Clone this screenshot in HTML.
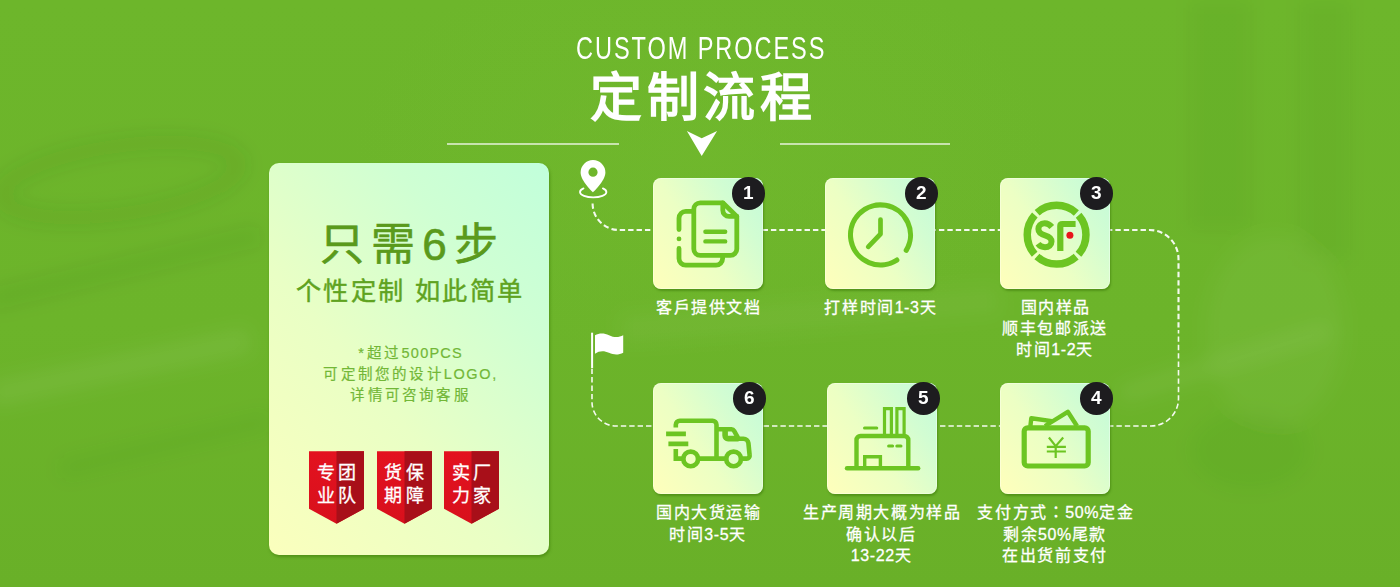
<!DOCTYPE html>
<html lang="zh-CN">
<head>
<meta charset="utf-8">
<title>定制流程</title>
<style>
*{margin:0;padding:0;box-sizing:border-box}
html,body{width:1400px;height:587px;overflow:hidden}
body{font-family:"Liberation Sans",sans-serif;background:#6cb42a;position:relative;color:#fff}
.bg{position:absolute;left:0;top:0;width:1400px;height:587px;
 background:
  radial-gradient(ellipse 500px 300px at 700px 150px, rgba(120,190,50,.25), rgba(120,190,50,0) 70%),
  linear-gradient(180deg,#6db62b 0%,#6cb42a 55%,#69b028 100%);}
.abs{position:absolute}
.en{position:absolute;left:0;width:1400px;text-align:center;top:28.5px;font-size:30.5px;line-height:38px;letter-spacing:2.5px;text-indent:2.5px;font-weight:400;color:#fff;white-space:nowrap;transform:scaleX(.772);transform-origin:701px 50%}
.h1{position:absolute;left:0;width:1400px;text-align:center;top:64px;font-size:52px;line-height:68px;font-weight:700;letter-spacing:4.5px;text-indent:6px;color:#fff;white-space:nowrap}
.hl{position:absolute;height:1.5px;background:rgba(255,255,255,.62);top:143px}
.panel{position:absolute;left:269px;top:163px;width:280px;height:392px;border-radius:10px;
 background:linear-gradient(50deg,#fbffbd 0%,#e9ffc5 40%,#cfffd3 74%,#c1ffdb 100%);
 box-shadow:1px 2px 3px rgba(60,120,10,.55)}
.p1{position:absolute;width:280px;text-align:center;white-space:nowrap;color:#5a9a1c}
.tile{position:absolute;width:110px;height:110.5px;border-radius:8px;
 background:linear-gradient(56deg,#ffffbb 0%,#ecffc4 42%,#d2fdd2 74%,#c2fadb 100%);
 box-shadow:1px 2px 2px rgba(60,120,10,.5), inset 0 0 0 1px rgba(255,255,255,.35)}
.badge{position:absolute;width:32.5px;height:32.5px;border-radius:50%;background:#1d1c1f;color:#fff;
 font-size:19px;font-weight:700;text-align:center;line-height:32.5px;will-change:transform}
.lab{position:absolute;width:240px;text-align:center;font-size:16px;line-height:21.4px;letter-spacing:1.55px;text-indent:1.55px;font-weight:400;color:#fff;white-space:nowrap;-webkit-text-stroke:.28px #fff}
.lab i{font-style:normal;letter-spacing:.6px}
.sm{font-size:14.5px;line-height:21.5px;letter-spacing:3.2px;text-indent:3.2px;color:#72b737;font-weight:400;-webkit-text-stroke:.2px #72b737}
.sm i{font-style:normal;letter-spacing:1.2px}
.rib{position:absolute;top:451px;width:54.5px;height:72px}
.rib svg{position:absolute;left:0;top:0}
.rib div{position:absolute;left:0;top:10.5px;width:54.5px;text-align:center;font-size:18px;line-height:23px;letter-spacing:3.5px;padding-left:3.5px;color:#fff;font-weight:400;white-space:nowrap;-webkit-text-stroke:.3px #fff}
</style>
</head>
<body>
<div class="bg"></div>
<svg class="abs" style="left:0;top:0" width="1400" height="587" viewBox="0 0 1400 587">
  <defs><filter id="bl" x="-20%" y="-20%" width="140%" height="140%"><feGaussianBlur stdDeviation="9"/></filter></defs>
  <g filter="url(#bl)" fill="none">
    <ellipse cx="120" cy="180" rx="120" ry="34" stroke="rgba(40,90,0,.09)" stroke-width="16" transform="rotate(-8 120 180)"/>
    <path d="M-10 395L250 340" stroke="rgba(255,255,255,.06)" stroke-width="26"/>
    <path d="M-10 300L260 235" stroke="rgba(40,90,0,.06)" stroke-width="22"/>
    <path d="M60 470L270 420" stroke="rgba(40,90,0,.05)" stroke-width="20"/>
    <path d="M1120 395L1330 330" stroke="rgba(255,255,255,.06)" stroke-width="18"/>
    <ellipse cx="1275" cy="330" rx="70" ry="95" fill="rgba(255,255,255,.035)"/>
    <rect x="1190" y="0" width="60" height="230" fill="rgba(40,90,0,.045)"/>
    <rect x="1300" y="0" width="50" height="260" fill="rgba(40,90,0,.04)"/>
    <ellipse cx="1250" cy="450" rx="60" ry="40" fill="rgba(40,90,0,.05)"/>
    <path d="M620 330L1000 300" stroke="rgba(255,255,255,.035)" stroke-width="30"/>
  </g>
</svg>
<div class="en">CUSTOM PROCESS</div>
<div class="h1">定制流程</div>
<div class="hl" style="left:447px;width:172px"></div>
<div class="hl" style="left:780px;width:170px"></div>
<svg class="abs" style="left:680px;top:125px" width="44" height="36" viewBox="680 125 44 36"><path d="M686.9 131.1 L701.7 138.2 L717.1 131.1 L701.7 155.9 Z" fill="#fff"/></svg>

<div class="panel"></div>
<div class="p1" id="t6" style="left:269px;top:216.5px;font-size:44px;line-height:56px;font-weight:400;letter-spacing:7px;text-indent:7px;-webkit-text-stroke:.65px #5a9a1c">只需6步</div>
<div class="p1" id="t7" style="left:269px;top:273.5px;font-size:25.2px;line-height:34px;font-weight:400;letter-spacing:2.35px;text-indent:2.35px;color:#5fa320;-webkit-text-stroke:.45px #5fa320">个性定制 如此简单</div>
<div class="p1 sm" id="s1" style="left:269px;top:343px">*超过<i>500PCS</i></div>
<div class="p1 sm" id="s2" style="left:269px;top:363.8px">可定制您的设计<i style="letter-spacing:1.6px">LOGO,</i></div>
<div class="p1 sm" id="s3" style="left:269px;top:385.3px">详情可咨询客服</div>

<div class="rib" style="left:309px"><svg width="55" height="73" viewBox="0 0 54.5 72"><path d="M0 0H54.5V57L27.25 72L0 57Z" fill="url(#rg)"/><path d="M27.25 0H54.5V57L27.25 72Z" fill="#a80f19"/></svg><div>专团<br>业队</div></div>
<div class="rib" style="left:376.5px"><svg width="55" height="73" viewBox="0 0 54.5 72"><path d="M0 0H54.5V57L27.25 72L0 57Z" fill="url(#rg)"/><path d="M27.25 0H54.5V57L27.25 72Z" fill="#a80f19"/></svg><div>货保<br>期障</div></div>
<div class="rib" style="left:444px"><svg width="55" height="73" viewBox="0 0 54.5 72"><path d="M0 0H54.5V57L27.25 72L0 57Z" fill="url(#rg)"/><path d="M27.25 0H54.5V57L27.25 72Z" fill="#a80f19"/></svg><div>实厂<br>力家</div></div>
<svg width="0" height="0" style="position:absolute"><defs><linearGradient id="rg" x1="0" y1="0" x2="0" y2="1"><stop offset="0" stop-color="#e3121f"/><stop offset="1" stop-color="#d8101c"/></linearGradient></defs></svg>

<!-- dashed route -->
<svg class="abs" style="left:0;top:0" width="1400" height="587" viewBox="0 0 1400 587" fill="none" stroke="#fff" stroke-dasharray="5.4 3" opacity=".93">
  <path d="M592.6 203.5A26.5 26.5 0 0 0 619.1 230H1149.5A29 29 0 0 1 1178.5 259V330" stroke-width="2.1"/>
  <path d="M1178.5 330V398.5A27.5 27.5 0 0 1 1151 426H616A24 24 0 0 1 592 402V368" stroke-width="1.6" stroke-dashoffset="2"/>
</svg>

<div class="tile" style="left:652.5px;top:178px"></div>
<div class="tile" style="left:825px;top:178px"></div>
<div class="tile" style="left:1000px;top:178px"></div>
<div class="tile" style="left:653px;top:383px"></div>
<div class="tile" style="left:826.5px;top:383px"></div>
<div class="tile" style="left:1000px;top:383px"></div>


<!-- icons overlay (page coordinates) -->
<svg class="abs" style="left:0;top:0" width="1400" height="587" viewBox="0 0 1400 587" fill="none" stroke="#6cc522" stroke-linecap="round" stroke-linejoin="round">
  <!-- pin -->
  <g stroke="none" fill="#fff">
    <path fill-rule="evenodd" d="M593 192.3C593 192.3 580.6 181 580.6 172.5A12.4 12.4 0 0 1 605.4 172.5C605.4 181 593 192.3 593 192.3ZM593 167.6a4.6 4.6 0 1 0 0 9.2a4.6 4.6 0 1 0 0-9.2Z"/>
    <rect x="591.1" y="332.7" width="2" height="35.4"/>
    <path d="M595 335.3C599 333 604 332.8 609 335.2C614 337.8 619 337.6 623.2 335.3V352.7C619 355 614 355.2 609 352.8C604 350.4 599 350.8 595 353.7Z"/>
  </g>
  <path d="M583.5 188.4A13.2 5.4 0 1 0 602.9 188.4" stroke="#fff" stroke-width="1.8"/>

  <!-- 1 documents -->
  <g stroke-width="4.8">
    <path d="M700.3 202.8H722.8L736.8 216.4V248.9a6.5 6.5 0 0 1-6.5 6.5H700.3a6.5 6.5 0 0 1-6.5-6.5V209.3a6.5 6.5 0 0 1 6.5-6.5Z"/>
    <path d="M722.8 202.8V210.2a6.2 6.2 0 0 0 6.2 6.2H736.8"/>
    <path d="M705.4 231.8H725.2M705.4 241.4H725.2" stroke-width="4.4"/>
    <path d="M692 211.4H685.8a6.8 6.8 0 0 0-6.8 6.8V229.6M679 238.9v.01M679 248.4V258.4a6.8 6.8 0 0 0 6.8 6.8H716a6.6 6.6 0 0 0 6.6-6.6V257.5"/>
  </g>

  <!-- 2 clock -->
  <path d="M896.84 260.06A30 30 0 1 1 906.22 250.35" stroke-width="5.1"/>
  <path d="M880.5 219.6V234L868.2 246.8" stroke-width="4.7"/>

  <!-- 3 SF -->
  <circle cx="1056.6" cy="234.7" r="29.35" stroke-width="7.5" stroke-linecap="butt" stroke-dasharray="42.9 3.2" stroke-dashoffset="21.45"/>
  <path d="M1051.8 227C1049.5 224.2 1046.6 223.3 1044.6 223.3C1040.4 223.3 1038.4 226 1038.4 229C1038.4 232.8 1041.3 234.2 1045 235.3C1048.7 236.4 1051.5 237.8 1051.5 241.5C1051.5 245 1048.8 247.2 1045 247.2C1042 247.2 1039.6 246 1038 243.8" stroke-width="6" stroke-linecap="butt"/>
  <path d="M1057.2 250.9V226Q1057.2 220.9 1062.5 220.9H1075.6V227.1H1063.4V250.9Z" fill="#6cc522" stroke="none"/>
  <circle cx="1069.9" cy="235.2" r="3.5" fill="#e8151b" stroke="none"/>

  <!-- 6 truck -->
  <g stroke-width="4.6">
    <path d="M675.8 427.5V424.7a4 4 0 0 1 4-4H712.5a4 4 0 0 1 4 4V458.6" stroke-linecap="butt"/>
    <path d="M675.8 449V458.6H682.5M699 458.6H725.3" stroke-linecap="butt" stroke-linejoin="miter"/>
    <path d="M716.5 429.3H731.5a3 3 0 0 1 2.6 1.5L738.6 438.8H743.5a5 5 0 0 1 4.9 4.2L749.6 455a3 3 0 0 1-3 3.6H742" stroke-linecap="butt"/>
    <path d="M725.1 429.3V435.6a3 3 0 0 0 3 3H738.6" stroke-linecap="butt" stroke-width="5.6"/>
    <path d="M666.1 433.8H685.9M668.4 443.9H688.3" stroke-width="4.8" stroke-linecap="butt"/>
    <circle cx="690.7" cy="458.9" r="7.35" stroke-width="4.7"/>
    <circle cx="733.6" cy="458.9" r="7.35" stroke-width="4.7"/>
  </g>

  <!-- 5 factory -->
  <path d="M847 468.3H918.2" stroke-width="4.4"/>
  <path d="M856.5 468V440a4 4 0 0 1 4-4H904.3a4 4 0 0 1 4 4V468" stroke-width="4.4" stroke-linecap="butt"/>
  <path d="M884.5 434V408.6H891.4V434M896.9 434V408.6H904.1V434" stroke-width="3.2" stroke-linecap="butt" stroke-linejoin="miter"/>
  <path d="M864.5 428H876.8M888.6 446.1H892.6M896.8 446.1H901" stroke-width="3"/>
  <path d="M864.7 467V456.7H880.4V467" stroke-width="3.4" stroke-linecap="butt" stroke-linejoin="miter"/>

  <!-- 4 wallet -->
  <rect x="1024.2" y="427.8" width="64" height="38.2" rx="3.5" stroke-width="5.2"/>
  <path d="M1030.4 426L1031.3 418.2L1053.5 421.4M1045 426L1067.8 411.8L1077 426" stroke-width="4.4" stroke-linecap="butt"/>
  <path d="M1048.9 437.5L1055.7 446.1L1063.2 437.5M1055.7 446.1V457.9M1046.8 446.8H1065.9M1046.8 451.5H1065.9" stroke-width="2.2" stroke-linecap="butt" stroke-linejoin="miter"/>
</svg>

<div class="badge" style="left:732.3px;top:177.3px">1</div>
<div class="badge" style="left:904.8px;top:177.3px">2</div>
<div class="badge" style="left:1079.7px;top:177.3px">3</div>
<div class="badge" style="left:733px;top:382.3px">6</div>
<div class="badge" style="left:906.5px;top:382.3px">5</div>
<div class="badge" style="left:1079.7px;top:382.3px">4</div>

<div class="lab" id="l1" style="left:588px;top:296.5px">客戶提供文档</div>
<div class="lab" id="l2" style="left:760px;top:296.5px">打样时间<i>1-3</i>天</div>
<div class="lab" id="l3" style="left:935px;top:298px;line-height:20.9px">国内样品<br>顺丰包邮派送<br>时间<i>1-2</i>天</div>
<div class="lab" id="l6" style="left:588px;top:502.2px">国内大货运输<br>时间<i>3-5</i>天</div>
<div class="lab" id="l5" style="left:761.5px;top:502.2px">生产周期大概为样品<br>确认以后<br><i>13-22</i>天</div>
<div class="lab" id="l4" style="left:935px;top:502.2px">支付方式<span lang="zh-TW">：</span><i>50%</i>定金<br>剩余<i>50%</i>尾款<br>在出货前支付</div>
</body>
</html>
